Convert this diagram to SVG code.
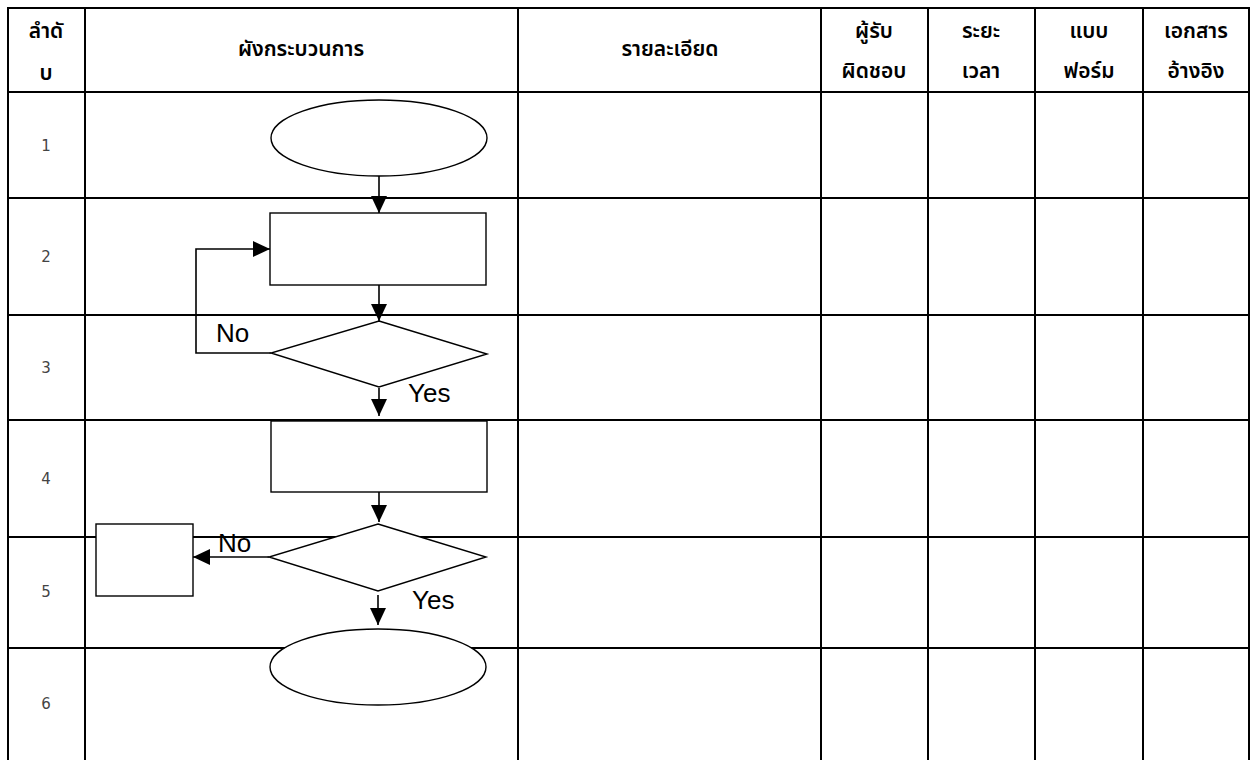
<svg xmlns="http://www.w3.org/2000/svg" width="1252" height="760" viewBox="0 0 1252 760">
<style>
.grid{stroke:#000;stroke-width:2;fill:none}
.shape{stroke:#000;stroke-width:1.4;fill:#fff}
.conn{stroke:#000;stroke-width:1.6;fill:none}
.hdr{font-family:"Noto Sans Thai","Tahoma","Noto Sans",sans-serif;font-size:21px;font-weight:600;fill:#000;text-anchor:middle}
.num{font-family:"DejaVu Sans","Verdana",sans-serif;font-size:15px;fill:#444;text-anchor:middle}
.lbl{font-family:"Liberation Sans",Arial,sans-serif;font-size:26px;fill:#000}
</style>
<defs>
<marker id="ah" markerUnits="userSpaceOnUse" markerWidth="18" markerHeight="16" refX="17" refY="8" orient="auto">
<path d="M0,0 L17,8 L0,16 Z" fill="#000"/>
</marker>
</defs>
<rect width="1252" height="760" fill="#fff"/>
<g id="table">
<line class="grid" x1="7" y1="8" x2="1250" y2="8"/>
<line class="grid" x1="7" y1="92" x2="1250" y2="92"/>
<line class="grid" x1="7" y1="198" x2="1250" y2="198"/>
<line class="grid" x1="7" y1="315" x2="1250" y2="315"/>
<line class="grid" x1="7" y1="420" x2="1250" y2="420"/>
<line class="grid" x1="7" y1="537" x2="1250" y2="537"/>
<line class="grid" x1="7" y1="648" x2="1250" y2="648"/>
<line class="grid" x1="8" y1="7" x2="8" y2="760"/>
<line class="grid" x1="85" y1="7" x2="85" y2="760"/>
<line class="grid" x1="518" y1="7" x2="518" y2="760"/>
<line class="grid" x1="821" y1="7" x2="821" y2="760"/>
<line class="grid" x1="928" y1="7" x2="928" y2="760"/>
<line class="grid" x1="1035" y1="7" x2="1035" y2="760"/>
<line class="grid" x1="1143" y1="7" x2="1143" y2="760"/>
<line class="grid" x1="1249" y1="7" x2="1249" y2="760"/>
</g>
<g id="headers">
<text class="hdr" x="46" y="38">ลำดั</text>
<text class="hdr" x="46" y="80">บ</text>
<text class="hdr" x="301" y="56">ผังกระบวนการ</text>
<text class="hdr" x="670" y="56">รายละเอียด</text>
<text class="hdr" x="874" y="38">ผู้รับ</text>
<text class="hdr" x="874" y="78">ผิดชอบ</text>
<text class="hdr" x="981" y="38">ระยะ</text>
<text class="hdr" x="981" y="78">เวลา</text>
<text class="hdr" x="1089" y="38">แบบ</text>
<text class="hdr" x="1089" y="78">ฟอร์ม</text>
<text class="hdr" x="1196" y="38">เอกสาร</text>
<text class="hdr" x="1196" y="78">อ้างอิง</text>
</g>
<g id="rownums">
<text class="num" x="46" y="151">1</text>
<text class="num" x="46" y="262">2</text>
<text class="num" x="46" y="373">3</text>
<text class="num" x="46" y="484">4</text>
<text class="num" x="46" y="597">5</text>
<text class="num" x="46" y="709">6</text>
</g>
<g id="connectors">
<line class="conn" x1="379" y1="176" x2="379" y2="213" marker-end="url(#ah)"/>
<line class="conn" x1="379" y1="285" x2="379" y2="321" marker-end="url(#ah)"/>
<polyline class="conn" points="271,353 196,353 196,249 270,249" marker-end="url(#ah)"/>
<line class="conn" x1="379" y1="388" x2="379" y2="416" marker-end="url(#ah)"/>
<line class="conn" x1="379" y1="492" x2="379" y2="522" marker-end="url(#ah)"/>
<line class="conn" x1="269" y1="557" x2="193" y2="557" marker-end="url(#ah)"/>
<line class="conn" x1="378" y1="595" x2="378" y2="625" marker-end="url(#ah)"/>
</g>
<g id="n1"><ellipse class="shape" cx="379" cy="138" rx="108" ry="38"/></g>
<g id="n2"><rect class="shape" x="270" y="213" width="216" height="72"/></g>
<g id="n3"><polygon class="shape" points="379,321 487,354 379,387 271,353"/></g>
<g id="n4"><rect class="shape" x="271" y="421" width="216" height="71"/></g>
<g id="n5"><polygon class="shape" points="378,524 486,557 378,591 269,557"/></g>
<g id="n5b"><rect class="shape" x="96" y="524" width="97" height="72"/></g>
<g id="n6"><ellipse class="shape" cx="378" cy="667" rx="108" ry="38"/></g>
<g id="labels">
<text class="lbl" x="216" y="342">No</text>
<text class="lbl" x="408" y="402">Yes</text>
<text class="lbl" x="218" y="552">No</text>
<text class="lbl" x="412" y="609">Yes</text>
</g>
</svg>
